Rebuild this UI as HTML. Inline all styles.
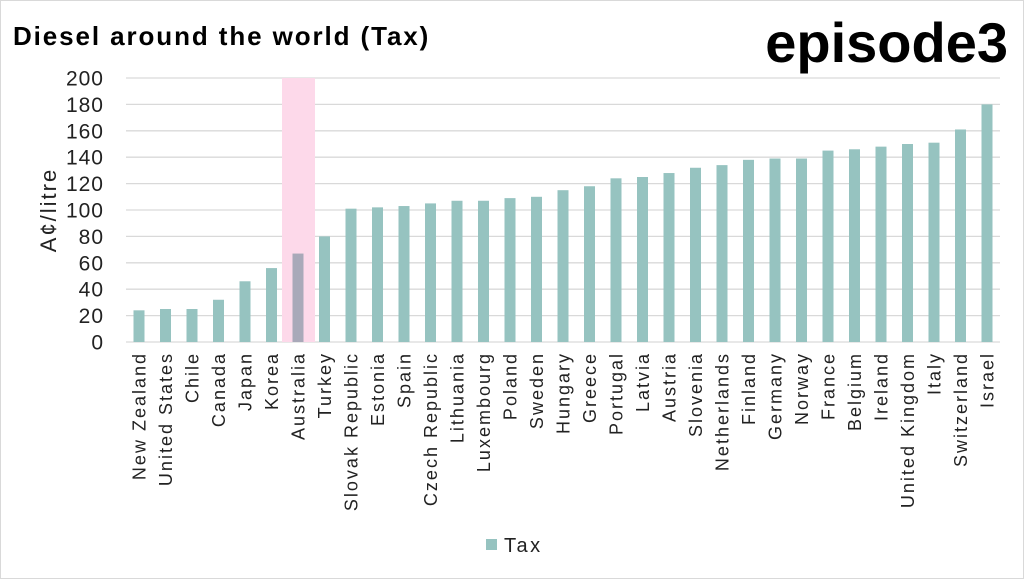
<!DOCTYPE html>
<html><head><style>
body{margin:0;background:#fff;}
svg{display:block;font-family:"Liberation Sans",sans-serif;}
</style></head><body>
<svg width="1024" height="579" xmlns="http://www.w3.org/2000/svg">
<rect x="0.5" y="0.5" width="1023" height="578" fill="#fff" stroke="#d9d9d9"/>
<text x="13" y="45" font-size="26" font-weight="bold" fill="#000" letter-spacing="1.9">Diesel around the world (Tax)</text>
<text x="1008" y="62" font-size="56" font-weight="bold" text-anchor="end" fill="#000" letter-spacing="0">episode3</text>
<g stroke="#d9d9d9" stroke-width="1.3">
<line x1="126" x2="1000" y1="342" y2="342"/>
<line x1="126" x2="1000" y1="315.6" y2="315.6"/>
<line x1="126" x2="1000" y1="289.2" y2="289.2"/>
<line x1="126" x2="1000" y1="262.8" y2="262.8"/>
<line x1="126" x2="1000" y1="236.4" y2="236.4"/>
<line x1="126" x2="1000" y1="210" y2="210"/>
<line x1="126" x2="1000" y1="183.6" y2="183.6"/>
<line x1="126" x2="1000" y1="157.2" y2="157.2"/>
<line x1="126" x2="1000" y1="130.8" y2="130.8"/>
<line x1="126" x2="1000" y1="104.4" y2="104.4"/>
<line x1="126" x2="1000" y1="78" y2="78"/>
</g>
<rect x="282" y="78" width="33" height="264" fill="#fdd9ea"/>
<g fill="#96c3c0">
<rect x="133.5" y="310.32" width="11" height="31.68"/>
<rect x="160" y="309" width="11" height="33"/>
<rect x="186.5" y="309" width="11" height="33"/>
<rect x="213" y="299.76" width="11" height="42.24"/>
<rect x="239.5" y="281.28" width="11" height="60.72"/>
<rect x="266" y="268.08" width="11" height="73.92"/>
<rect x="292.5" y="253.56" width="11" height="88.44" fill="#a9a9b9"/>
<rect x="319" y="236.4" width="11" height="105.6"/>
<rect x="345.5" y="208.68" width="11" height="133.32"/>
<rect x="372" y="207.36" width="11" height="134.64"/>
<rect x="398.5" y="206.04" width="11" height="135.96"/>
<rect x="425" y="203.4" width="11" height="138.6"/>
<rect x="451.5" y="200.76" width="11" height="141.24"/>
<rect x="478" y="200.76" width="11" height="141.24"/>
<rect x="504.5" y="198.12" width="11" height="143.88"/>
<rect x="531" y="196.8" width="11" height="145.2"/>
<rect x="557.5" y="190.2" width="11" height="151.8"/>
<rect x="584" y="186.24" width="11" height="155.76"/>
<rect x="610.5" y="178.32" width="11" height="163.68"/>
<rect x="637" y="177" width="11" height="165"/>
<rect x="663.5" y="173.04" width="11" height="168.96"/>
<rect x="690" y="167.76" width="11" height="174.24"/>
<rect x="716.5" y="165.12" width="11" height="176.88"/>
<rect x="743" y="159.84" width="11" height="182.16"/>
<rect x="769.5" y="158.52" width="11" height="183.48"/>
<rect x="796" y="158.52" width="11" height="183.48"/>
<rect x="822.5" y="150.6" width="11" height="191.4"/>
<rect x="849" y="149.28" width="11" height="192.72"/>
<rect x="875.5" y="146.64" width="11" height="195.36"/>
<rect x="902" y="144" width="11" height="198"/>
<rect x="928.5" y="142.68" width="11" height="199.32"/>
<rect x="955" y="129.48" width="11" height="212.52"/>
<rect x="981.5" y="104.4" width="11" height="237.6"/>
</g>
<g font-size="21" fill="#222" text-anchor="end" letter-spacing="1">
<text x="104" y="349.5">0</text>
<text x="104" y="323.1">20</text>
<text x="104" y="296.7">40</text>
<text x="104" y="270.3">60</text>
<text x="104" y="243.9">80</text>
<text x="104" y="217.5">100</text>
<text x="104" y="191.1">120</text>
<text x="104" y="164.7">140</text>
<text x="104" y="138.3">160</text>
<text x="104" y="111.9">180</text>
<text x="104" y="85.5">200</text>
</g>
<text transform="translate(56,210) rotate(-90)" font-size="22" fill="#222" text-anchor="middle" letter-spacing="2">A¢/litre</text>
<g font-size="18" fill="#222" text-anchor="end" letter-spacing="2">
<text transform="translate(145.5,352) rotate(-90)">New Zealand</text>
<text transform="translate(172,352) rotate(-90)">United States</text>
<text transform="translate(198.5,352) rotate(-90)">Chile</text>
<text transform="translate(225,352) rotate(-90)">Canada</text>
<text transform="translate(251.5,352) rotate(-90)">Japan</text>
<text transform="translate(278,352) rotate(-90)">Korea</text>
<text transform="translate(304.5,352) rotate(-90)">Australia</text>
<text transform="translate(331,352) rotate(-90)">Turkey</text>
<text transform="translate(357.5,352) rotate(-90)">Slovak Republic</text>
<text transform="translate(384,352) rotate(-90)">Estonia</text>
<text transform="translate(410.5,352) rotate(-90)">Spain</text>
<text transform="translate(437,352) rotate(-90)">Czech Republic</text>
<text transform="translate(463.5,352) rotate(-90)">Lithuania</text>
<text transform="translate(490,352) rotate(-90)">Luxembourg</text>
<text transform="translate(516.5,352) rotate(-90)">Poland</text>
<text transform="translate(543,352) rotate(-90)">Sweden</text>
<text transform="translate(569.5,352) rotate(-90)">Hungary</text>
<text transform="translate(596,352) rotate(-90)">Greece</text>
<text transform="translate(622.5,352) rotate(-90)">Portugal</text>
<text transform="translate(649,352) rotate(-90)">Latvia</text>
<text transform="translate(675.5,352) rotate(-90)">Austria</text>
<text transform="translate(702,352) rotate(-90)">Slovenia</text>
<text transform="translate(728.5,352) rotate(-90)">Netherlands</text>
<text transform="translate(755,352) rotate(-90)">Finland</text>
<text transform="translate(781.5,352) rotate(-90)">Germany</text>
<text transform="translate(808,352) rotate(-90)">Norway</text>
<text transform="translate(834.5,352) rotate(-90)">France</text>
<text transform="translate(861,352) rotate(-90)">Belgium</text>
<text transform="translate(887.5,352) rotate(-90)">Ireland</text>
<text transform="translate(914,352) rotate(-90)">United Kingdom</text>
<text transform="translate(940.5,352) rotate(-90)">Italy</text>
<text transform="translate(967,352) rotate(-90)">Switzerland</text>
<text transform="translate(993.5,352) rotate(-90)">Israel</text>
</g>
<rect x="486" y="539" width="11" height="11" fill="#96c3c0"/>
<text x="504" y="552" font-size="20" fill="#222" letter-spacing="2.5">Tax</text>
</svg>
</body></html>
